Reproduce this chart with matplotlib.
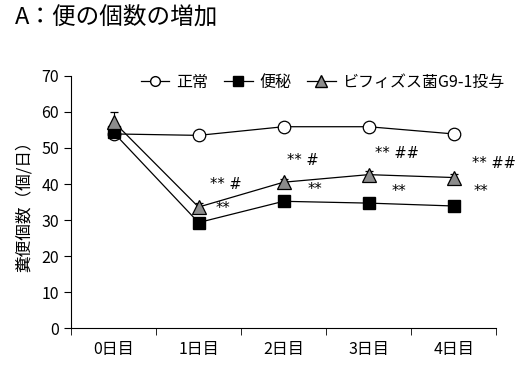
import matplotlib
matplotlib.use("Agg")
import matplotlib.pyplot as plt
from matplotlib.lines import Line2D
import numpy as np

plt.rcParams['font.family'] = ['Noto Sans CJK JP', 'DejaVu Sans']

# data
days = ['0日目', '1日目', '2日目', '3日目', '4日目']
normal = [53.9, 53.5, 55.9, 55.9, 53.9]
normal_err = [1.0, 0.8, 0.8, 0.8, 1.0]
constip = [54.3, 29.3, 35.2, 34.7, 33.9]
constip_err = [1.0, 0.8, 0.8, 0.8, 0.8]
bifidus = [57.3, 33.6, 40.5, 42.6, 41.8]
bifidus_err = [2.8, 1.0, 1.0, 1.0, 1.0]

# significance marks (upper: bifidus vs constipation, lower: constipation vs normal)
upper_x = [1.13, 2.04, 3.08, 4.22]
upper_y = [40.0, 46.5, 48.5, 45.7]
upper_txt = ['** #', '** #', '** ##', '** ##']
lower_x = [1.2, 2.28, 3.27, 4.23]
lower_y = [33.3, 38.5, 38.0, 38.0]

x = np.arange(len(days))

fig = plt.figure(figsize=(5.3, 3.65), dpi=100)
ax = fig.add_axes([0.134, 0.101, 0.802, 0.691])

ax.errorbar(x, normal, yerr=normal_err, color='black', lw=0.9, marker='o', ms=9,
            mfc='white', mec='black', mew=0.9, capsize=3, elinewidth=0.8, zorder=3)
ax.errorbar(x, constip, yerr=constip_err, color='black', lw=0.9, marker='s', ms=9,
            mfc='black', mec='black', capsize=3, elinewidth=0.8, zorder=4)
ax.errorbar(x, bifidus, yerr=bifidus_err, color='black', lw=0.9, marker='^', ms=10,
            mfc='#8c8c8c', mec='black', mew=0.9, capsize=3, elinewidth=0.8, zorder=5)

for tx, ty, t in zip(upper_x, upper_y, upper_txt):
    ax.text(tx, ty, t, fontsize=10.5, ha='left', va='center', family=['DejaVu Sans'])
for tx, ty in zip(lower_x, lower_y):
    ax.text(tx, ty, '**', fontsize=10.5, ha='left', va='center', family=['DejaVu Sans'])

ax.set_xlim(-0.5, 4.5)
ax.set_ylim(0, 70)
ax.set_yticks(range(0, 71, 10))
ax.set_xticks(x)
ax.set_xticklabels(days, fontsize=11.5)
ax.set_xticks(np.arange(-0.5, 4.6, 1), minor=True)
ax.tick_params(axis='x', which='major', length=0, pad=9)
ax.tick_params(axis='x', which='minor', length=5, direction='out')
ax.tick_params(axis='y', labelsize=11.5, length=5, direction='out')
for s in ['top', 'right']:
    ax.spines[s].set_visible(False)
ax.set_ylabel('糞便個数（個/日）', fontsize=12, labelpad=6)

handles = [
    Line2D([], [], color='black', lw=0.9, marker='o', ms=7, mfc='white', mec='black'),
    Line2D([], [], color='black', lw=0.9, marker='s', ms=7, mfc='black', mec='black'),
    Line2D([], [], color='black', lw=0.9, marker='^', ms=8, mfc='#8c8c8c', mec='black'),
]
ax.legend(handles, ['正常', '便秘', 'ビフィズス菌G9-1投与'], loc='upper left',
          bbox_to_anchor=(0.13, 1.065), ncol=3, frameon=False, fontsize=11.5,
          handlelength=1.8, handletextpad=0.4, columnspacing=1.0)

fig.text(0.028, 0.95, 'A：便の個数の増加', fontsize=17, ha='left', va='center')

fig.savefig('out.png', dpi=100)
